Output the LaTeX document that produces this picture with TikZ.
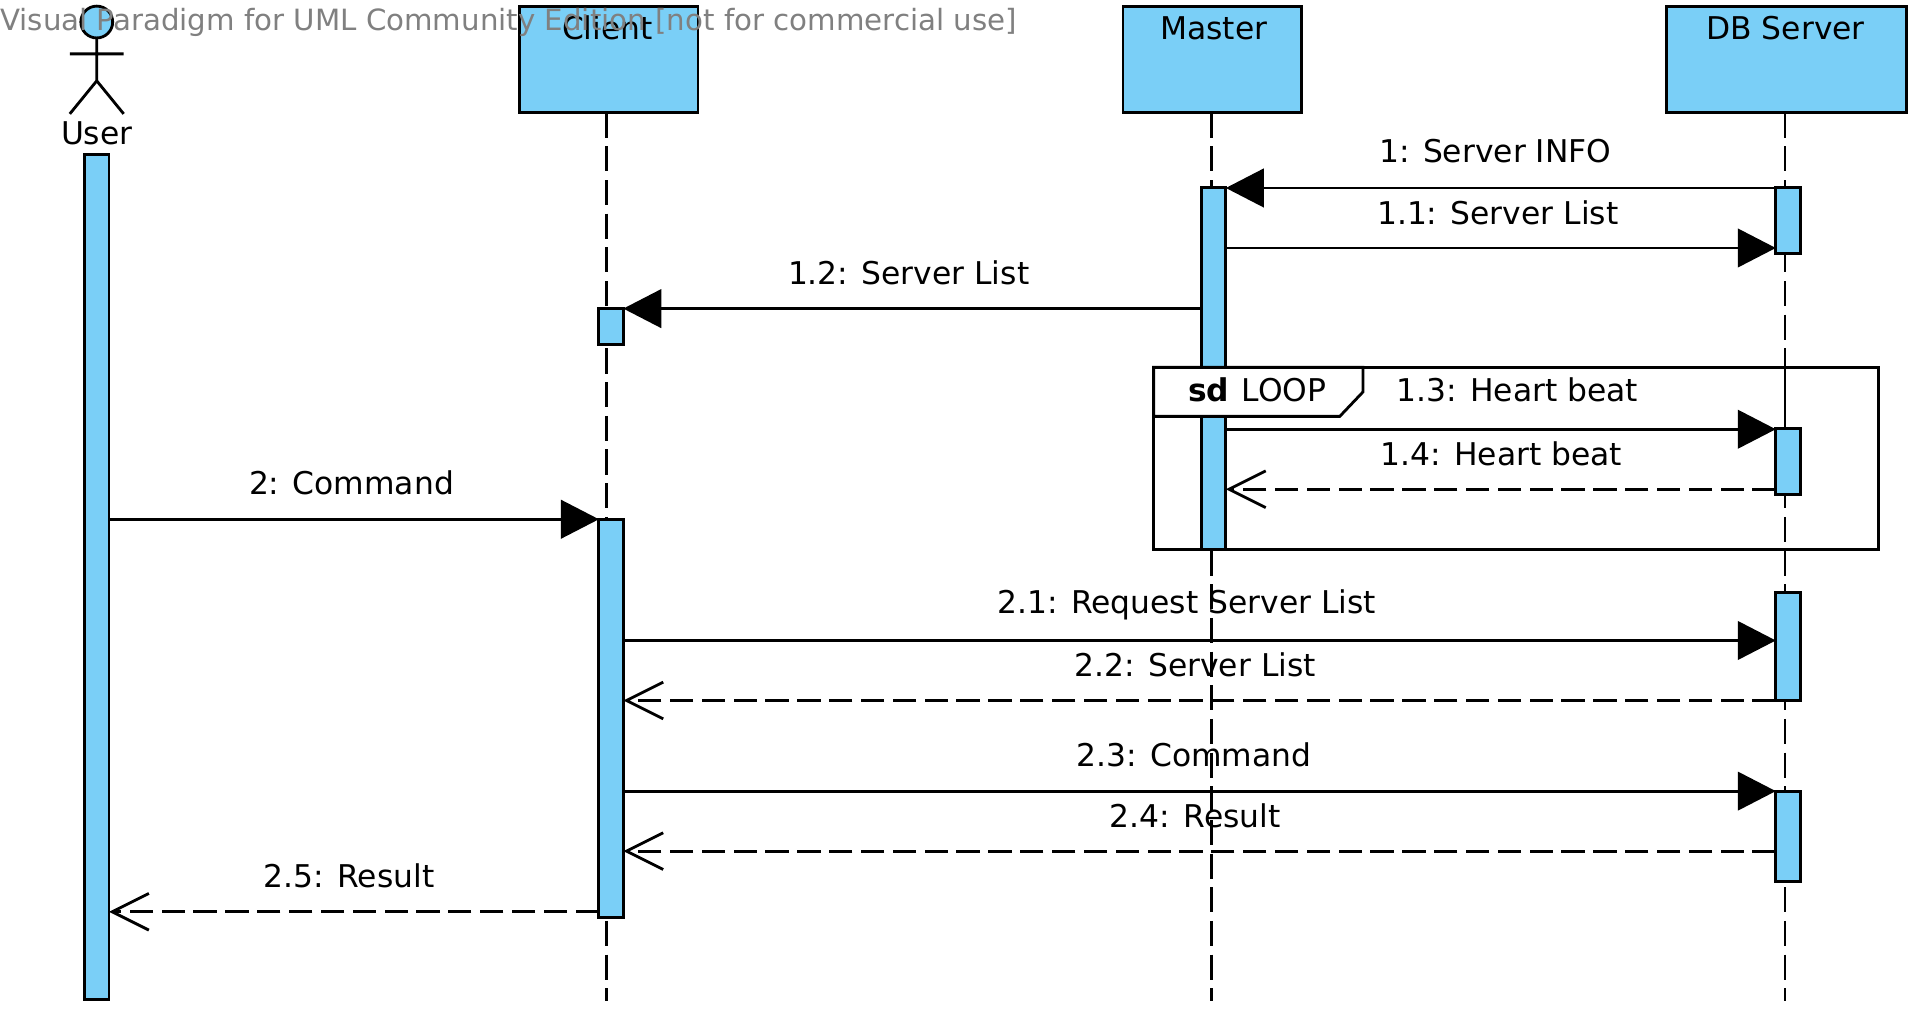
\documentclass[tikz,border=0pt]{standalone}
\usepackage{fontspec}
\setmainfont{DejaVu Sans}
\usetikzlibrary{arrows.meta,shapes.geometric}
\definecolor{vpblue}{RGB}{122,207,247}
\definecolor{wm}{RGB}{128,128,128}
\tikzset{
  x=1pt,y=-1pt,
  ln/.style={line width=2.3pt,draw=black,outer sep=0pt},
  obj/.style={ln,fill=vpblue,rectangle,inner sep=0pt,minimum width=146pt,minimum height=87pt,anchor=north west},
  bar/.style={ln,fill=vpblue,rectangle,inner sep=0pt,minimum width=20pt,anchor=north west},
  lbl/.style={inner sep=0pt,anchor=base,font=\fontsize{25.6}{27}\selectfont,text=black},
  life/.style={line width=2.3pt,dash pattern=on 20.5pt off 7pt},
  sync/.style={line width=2.3pt,-{Triangle[length=31pt,width=32pt,line width=0pt]}},
  ret/.style={line width=2.3pt,dash pattern=on 19pt off 7pt,-{Straight Barb[length=30pt,width=30pt,line width=2.3pt]}},
}
\begin{document}
\begin{tikzpicture}
\useasboundingbox (0,0) rectangle (1558,823.1);
% objects
\node[obj] (client) at (424,5) {};
\node[obj] (master) at (917,5) {};
\node[obj,minimum width=195.5pt] (db) at (1361,5) {};
\node[lbl] (clientT) at (496,32) {Client};
\node[lbl] (masterT) at (991,32) {Master};
\node[lbl] (dbT) at (1458,32) {DB Server};
% lifeline ends
\coordinate (cEnd) at (495.5,817);
\coordinate (mEnd) at (989,817);
\coordinate (dEnd) at (1457.5,817);
\draw[life] (cEnd |- client.south) -- (cEnd);
\draw[life] (mEnd |- master.south) -- (mEnd);
\draw[life] (dEnd |- db.south) -- (dEnd);
% actor
\node[ln,fill=vpblue,ellipse,inner sep=0pt,minimum width=26pt,minimum height=26pt,anchor=north] (head) at (79,5) {};
\coordinate (hip) at (79,66);
\coordinate (armL) at (57,44);
\coordinate (armR) at (101,44);
\coordinate (legL) at (57,93);
\coordinate (legR) at (101,93);
\draw[line width=2.3pt] (head.south) -- (hip) (armL) -- (armR) (legL) -- (hip) -- (legR);
\node[lbl] (userT) at (79,118) {User};
% activation bars
\node[bar,minimum height=690pt] (uA) at (69,126) {};
\node[bar,minimum height=29pt] (c1) at (489,252) {};
\node[bar,minimum height=325pt] (c2) at (489,424) {};
\node[bar,minimum height=296pt] (m1) at (981,153) {};
\node[bar,minimum height=54pt] (d1) at (1450,153) {};
\node[bar,minimum height=54pt] (d2) at (1450,350) {};
\node[bar,minimum height=88pt] (d3) at (1450,484) {};
\node[bar,minimum height=74pt] (d4) at (1450,646) {};
% message rows
\coordinate (y1) at (0,153.5);
\coordinate (y11) at (0,202.5);
\coordinate (y12) at (0,252);
\coordinate (y13) at (0,350.5);
\coordinate (y14) at (0,399.5);
\coordinate (y2) at (0,424);
\coordinate (y21) at (0,523);
\coordinate (y22) at (0,572);
\coordinate (y23) at (0,646);
\coordinate (y24) at (0,695);
\coordinate (y25) at (0,744.5);
\draw[sync] (d1.west |- y1) -- (m1.east |- y1);
\draw[sync] (m1.east |- y11) -- (d1.west |- y11);
\draw[sync] (m1.west |- y12) -- (c1.east |- y12);
\draw[sync] (m1.east |- y13) -- (d2.west |- y13);
\draw[ret] (d2.west |- y14) -- (m1.east |- y14);
\draw[sync] (uA.east |- y2) -- (c2.west |- y2);
\draw[sync] (c2.east |- y21) -- (d3.west |- y21);
\draw[ret] (d3.west |- y22) -- (c2.east |- y22);
\draw[sync] (c2.east |- y23) -- (d4.west |- y23);
\draw[ret] (d4.west |- y24) -- (c2.east |- y24);
\draw[ret] (c2.west |- y25) -- (uA.east |- y25);
% labels
\node[lbl] (l1) at (1221,133) {1: Server INFO};
\node[lbl] (l11) at (1223,183) {1.1: Server List};
\node[lbl] (l12) at (742,232) {1.2: Server List};
\node[lbl] (l13) at (1239,328) {1.3: Heart beat};
\node[lbl] (l14) at (1226,380) {1.4: Heart beat};
\node[lbl] (l2) at (287,404) {2: Command};
\node[lbl] (l21) at (969,501) {2.1: Request Server List};
\node[lbl] (l22) at (976,552) {2.2: Server List};
\node[lbl] (l23) at (975,626) {2.3: Command};
\node[lbl] (l24) at (976,676) {2.4: Result};
\node[lbl] (l25) at (285,725) {2.5: Result};
% frame
\draw[ln] (942,300) rectangle (1534,449);
\draw[ln,fill=white] (942,300) -- (1113,300) -- (1113,320) -- (1094,340) -- (942,340) -- cycle;
\node[lbl,anchor=base west] (sd) at (970,328) {\textbf{sd}\hspace{0.4em}LOOP};
% DB lifeline runs over the frame edge
\coordinate (fTop) at (0,300);
\coordinate (fBar) at (0,350);
\draw[life] (dEnd |- fTop) -- (dEnd |- fBar);
% watermark
\node[lbl,anchor=base west,text=wm,font=\fontsize{23.9}{27}\selectfont] (wmark) at (0,25) {Visual Paradigm for UML Community Edition [not for commercial use]};
\end{tikzpicture}
\end{document}
